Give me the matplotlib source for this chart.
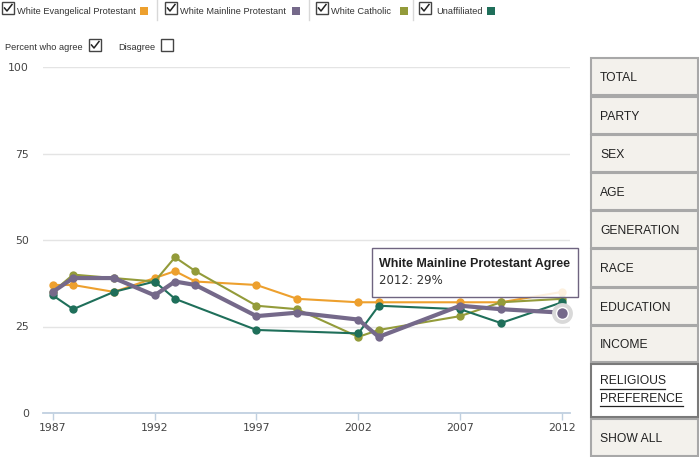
import matplotlib
matplotlib.use("Agg")
import matplotlib.pyplot as plt
from matplotlib.patches import Rectangle
from matplotlib.lines import Line2D
import numpy as np

# values (percent who agree)
years = [1987, 1988, 1990, 1992, 1993, 1994, 1997, 1999, 2002, 2003, 2007, 2009, 2012]
evangelical = [37, 37, 35, 39, 41, 38, 37, 33, 32, 32, 32, 32, 35]
mainline = [35, 39, 39, 34, 38, 37, 28, 29, 27, 22, 31, 30, 29]
catholic = [35, 40, 39, 38, 45, 41, 31, 30, 22, 24, 28, 32, 33]
unaffiliated = [34, 30, 35, 38, 33, None, 24, None, 23, 31, 30, 26, 32]

series_names = ["White Evangelical Protestant", "White Mainline Protestant",
                "White Catholic", "Unaffiliated"]
colors = ["#eda02e", "#75698a", "#939b3a", "#1f6f5a"]
xticks = [1987, 1992, 1997, 2002, 2007, 2012]
yticks = [0, 25, 50, 75, 100]
buttons = ["TOTAL", "PARTY", "SEX", "AGE", "GENERATION", "RACE", "EDUCATION",
           "INCOME", "RELIGIOUS", "SHOW ALL"]

W, H = 700, 457
fig = plt.figure(figsize=(W / 100, H / 100), dpi=100)
fig.patch.set_facecolor("white")

def fx(px):
    return px / W

def fy(py):
    return 1 - py / H

ax = fig.add_axes([fx(43), fy(413), fx(570) - fx(43), fy(67) - fy(413)])
ax.set_xlim(1986.52, 2012.39)
ax.set_ylim(0, 100)
ax.set_facecolor("white")
for s in ["top", "right", "left"]:
    ax.spines[s].set_visible(False)
ax.spines["bottom"].set_color("#c0d0e0")
ax.spines["bottom"].set_linewidth(1.3)
ax.set_yticks(yticks)
ax.set_xticks(xticks)
ax.tick_params(axis="y", length=0, pad=10, labelsize=7.8, labelcolor="#444444")
ax.tick_params(axis="x", length=5, color="#c0d0e0", width=1, pad=2,
               labelsize=7.8, labelcolor="#444444")
for lab in ax.get_xticklabels() + ax.get_yticklabels():
    lab.set_family("DejaVu Sans")
ax.yaxis.grid(True, color="#e4e4e4", linewidth=1)
ax.set_axisbelow(True)


def to_arr(vals):
    return np.array([np.nan if v is None else v for v in vals], dtype=float)


data = [evangelical, mainline, catholic, unaffiliated]
zorders = [3, 6, 4, 5]
for vals, col, z, name in zip(data, colors, zorders, series_names):
    yv = to_arr(vals)
    mask = ~np.isnan(yv)
    xs = np.array(years)[mask]
    lw = 3.0 if name == "White Mainline Protestant" else 1.5
    ax.plot(xs, yv[mask], color=col, lw=lw, marker="o", markersize=6,
            markeredgewidth=0, zorder=z, clip_on=False)

# hovered point
ax.plot([years[-1]], [mainline[-1]], marker="o", markersize=15, color="#d9d9d9",
        markeredgewidth=0, zorder=7, clip_on=False)
ax.plot([years[-1]], [mainline[-1]], marker="o", markersize=8.5, color=colors[1],
        markeredgecolor="white", markeredgewidth=1, zorder=8, clip_on=False)

# tooltip
tip = Rectangle((fx(372), fy(297)), fx(578) - fx(372), fy(248) - fy(297),
                transform=fig.transFigure, facecolor="white", alpha=0.85,
                edgecolor="none", zorder=20)
fig.add_artist(tip)
tip_edge = Rectangle((fx(372), fy(297)), fx(578) - fx(372), fy(248) - fy(297),
                     transform=fig.transFigure, facecolor="none",
                     edgecolor="#6f6480", lw=1, zorder=21)
fig.add_artist(tip_edge)
fig.text(fx(379), fy(264), "White Mainline Protestant Agree", fontsize=9,
         fontweight="bold", family="Liberation Sans", color="#222222",
         va="center", ha="left", zorder=22)
fig.text(fx(379), fy(280), "2012: 29%", fontsize=8.5, family="DejaVu Sans",
         color="#333333", va="center", ha="left", zorder=22)


def checkbox(x, y, checked=True, size=12):
    fig.add_artist(Rectangle((fx(x), fy(y + size)), fx(size), size / H,
                             transform=fig.transFigure, facecolor="white",
                             edgecolor="#444444", lw=1))
    if checked:
        fig.add_artist(Line2D([fx(x + 2.5), fx(x + 5), fx(x + 10)],
                              [fy(y + 6), fy(y + 9), fy(y + 2.5)],
                              transform=fig.transFigure, color="#222222", lw=1.1))


def small_text(x, y, s):
    fig.text(fx(x), fy(y), s, fontsize=6.7, family="Liberation Sans",
             color="#333333", va="center", ha="left")


# series toggles
legend_pos = [(2, 17, 140, None), (165, 180, 292, 157), (316, 331, 400, 309),
              (419, 436, 487, 413)]
for (cb, tx, sq, sep), name, col in zip(legend_pos, series_names, colors):
    checkbox(cb, 2)
    small_text(tx, 11, name)
    fig.add_artist(Rectangle((fx(sq), fy(15)), fx(8), 8 / H,
                             transform=fig.transFigure, facecolor=col,
                             edgecolor="none"))
    if sep is not None:
        fig.add_artist(Line2D([fx(sep), fx(sep)], [fy(0), fy(20)],
                              transform=fig.transFigure, color="#d8d8d8", lw=1))

small_text(5, 47, "Percent who agree")
checkbox(89, 39)
small_text(118, 47, "Disagree")
checkbox(161, 39, checked=False)

# category buttons on the right
tops = [58, 97, 135, 173, 211, 249, 288, 326, 364, 419]
bottoms = [95, 134, 172, 210, 248, 287, 325, 362, 417, 456]
for label, t, b in zip(buttons, tops, bottoms):
    selected = label == "RELIGIOUS"
    fig.add_artist(Rectangle((fx(591), fy(b)), fx(698) - fx(591), (b - t) / H,
                             transform=fig.transFigure,
                             facecolor="white" if selected else "#f3f1ec",
                             edgecolor="#7a7a7a" if selected else "#a8a8a8",
                             lw=1.5))
    if not selected:
        fig.text(fx(600), fy((t + b) / 2 + 1.5), label, fontsize=8.7,
                 family="Liberation Sans", color="#222222", va="center", ha="left")
        continue
    # selected button: two underlined lines
    for word, yc, x_end in [("RELIGIOUS", 381.5, 665), ("PREFERENCE", 398.5, 683)]:
        fig.text(fx(600), fy(yc), word, fontsize=8.7, family="Liberation Sans",
                 color="#222222", va="center", ha="left")
        fig.add_artist(Line2D([fx(600), fx(x_end)], [fy(yc + 7.5), fy(yc + 7.5)],
                              transform=fig.transFigure, color="#222222",
                              lw=0.9, zorder=5))

fig.savefig("out.png", dpi=100)
